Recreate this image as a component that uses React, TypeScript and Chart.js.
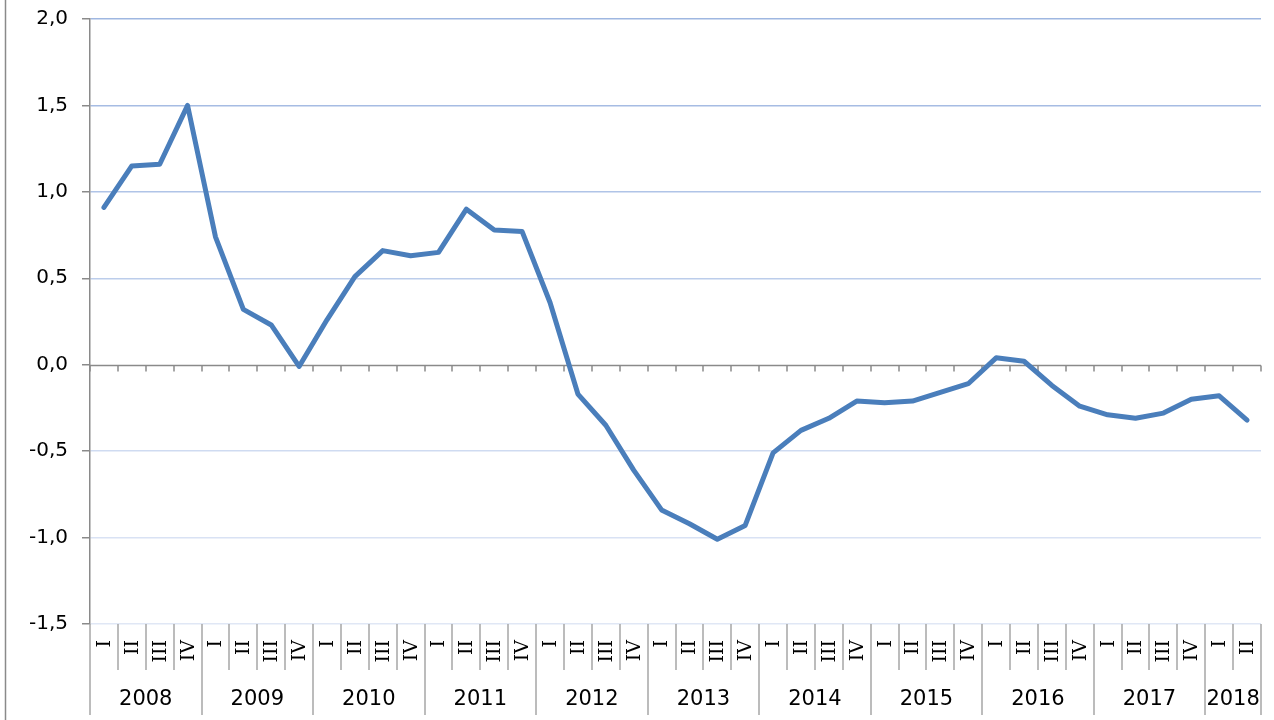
import React, { useEffect, useRef } from "react";
import { Chart, registerables } from "chart.js";

Chart.register(...registerables);

const years = ["2008", "2009", "2010", "2011", "2012", "2013", "2014", "2015", "2016", "2017", "2018"];
const quarterNames = ["I", "II", "III", "IV"];
const quarterCounts = [4, 4, 4, 4, 4, 4, 4, 4, 4, 4, 2];

const values = [
  0.91, 1.15, 1.16, 1.5,
  0.74, 0.32, 0.23, -0.01,
  0.26, 0.51, 0.66, 0.63,
  0.65, 0.9, 0.78, 0.77,
  0.36, -0.17, -0.35, -0.61,
  -0.84, -0.92, -1.01, -0.93,
  -0.51, -0.38, -0.31, -0.21,
  -0.22, -0.21, -0.16, -0.11,
  0.04, 0.02, -0.12, -0.24,
  -0.29, -0.31, -0.28, -0.2,
  -0.18, -0.32,
];

const yMin = -1.5;
const yMax = 2.0;
const yStep = 0.5;

const categoryLabels: string[] = [];
const categoryYears: string[] = [];
years.forEach((y, yi) => {
  for (let q = 0; q < quarterCounts[yi]; q++) {
    categoryLabels.push(quarterNames[q]);
    categoryYears.push(y);
  }
});

const AXIS_GRAY = "#8a8a8a";

const gridColors: Record<string, string> = {
  "2": "#9fb7e1",
  "1.5": "#a6bce3",
  "1": "#b0c4e7",
  "0.5": "#bccdeb",
  "-0.5": "#cfdbf1",
  "-1": "#d9e2f4",
  "-1.5": "#e0e7f5",
};

const axesPlugin = {
  id: "customAxes",
  beforeDatasetsDraw(chart: any) {
    const { ctx, chartArea, scales } = chart;
    const x = scales.x;
    const y = scales.y;
    const y0 = Math.round(y.getPixelForValue(0)) + 0.5;
    const n = categoryLabels.length;
    const half = (x.getPixelForValue(1) - x.getPixelForValue(0)) / 2;
    ctx.save();
    ctx.strokeStyle = AXIS_GRAY;
    ctx.lineWidth = 1.5;
    ctx.beginPath();
    ctx.moveTo(chartArea.left, y0);
    ctx.lineTo(chartArea.right, y0);
    ctx.stroke();
    for (let i = 0; i <= n; i++) {
      const bx = Math.round(i < n ? x.getPixelForValue(i) - half : x.getPixelForValue(n - 1) + half);
      ctx.beginPath();
      ctx.moveTo(bx, y0);
      ctx.lineTo(bx, y0 + 6);
      ctx.stroke();
    }
    ctx.restore();
  },
  afterDraw(chart: any) {
    const { ctx, chartArea, scales } = chart;
    const x = scales.x;
    const n = categoryLabels.length;
    const half = (x.getPixelForValue(1) - x.getPixelForValue(0)) / 2;
    const bottom = chartArea.bottom;
    ctx.save();
    ctx.strokeStyle = AXIS_GRAY;
    ctx.lineWidth = 1.5;
    ctx.beginPath();
    ctx.moveTo(5.5, 0);
    ctx.lineTo(5.5, 720);
    ctx.stroke();

    ctx.strokeStyle = "#a6a6a6";
    ctx.lineWidth = 1.5;
    for (let i = 0; i <= n; i++) {
      const bx = Math.round(i < n ? x.getPixelForValue(i) - half : x.getPixelForValue(n - 1) + half);
      const isYear = i === 0 || i === n || categoryYears[i] !== categoryYears[i - 1];
      ctx.beginPath();
      ctx.moveTo(bx, bottom);
      ctx.lineTo(bx, isYear ? bottom + 91 : bottom + 46);
      ctx.stroke();
    }

    ctx.fillStyle = "#000";
    ctx.font = "19px 'DejaVu Serif'";
    ctx.textAlign = "right";
    ctx.textBaseline = "middle";
    for (let i = 0; i < n; i++) {
      const cx = x.getPixelForValue(i);
      ctx.save();
      ctx.translate(cx + 1, bottom + 16);
      ctx.rotate(-Math.PI / 2);
      ctx.fillText(categoryLabels[i], 0, 0);
      ctx.restore();
    }

    ctx.font = "21px 'DejaVu Sans'";
    ctx.textAlign = "center";
    ctx.textBaseline = "middle";
    let start = 0;
    years.forEach((yr, yi) => {
      const cnt = quarterCounts[yi];
      const a = x.getPixelForValue(start) - half;
      const b = x.getPixelForValue(start + cnt - 1) + half;
      ctx.fillText(yr, (a + b) / 2, bottom + 76);
      start += cnt;
    });
    ctx.restore();
  },
};

export default function App() {
  const canvasRef = useRef<HTMLCanvasElement | null>(null);

  useEffect(() => {
    const canvas = canvasRef.current;
    if (!canvas) return;
    const chart = new Chart(canvas, {
      type: "line",
      data: {
        labels: categoryLabels,
        datasets: [
          {
            data: values,
            borderColor: "#4a7ebb",
            borderWidth: 5,
            pointRadius: 0,
            tension: 0,
            borderJoinStyle: "round",
            borderCapStyle: "round",
            fill: false,
          },
        ],
      },
      options: {
        animation: false,
        responsive: false,
        layout: { padding: { top: 19, right: 13, bottom: 96, left: 0 } },
        plugins: { legend: { display: false }, tooltip: { enabled: false } },
        scales: {
          x: {
            type: "category",
            display: false,
            offset: true,
          },
          y: {
            min: yMin,
            max: yMax,
            border: { display: true, color: AXIS_GRAY, width: 1.5 },
            grid: {
              color: (c: any) => {
                const v = c.tick ? c.tick.value : null;
                if (v === 0 || v === null) return "rgba(0,0,0,0)";
                return gridColors[String(Math.round(v * 10) / 10)] || "#b0c4e7";
              },
              lineWidth: 1.5,
              tickColor: AXIS_GRAY,
              tickLength: 8,
              drawTicks: true,
            },
            ticks: {
              stepSize: yStep,
              color: "#000",
              padding: 14,
              font: { family: "'DejaVu Sans'", size: 20 },
              callback: (v: any) => Number(v).toFixed(1).replace(".", ","),
            },
            afterFit: (scale: any) => {
              scale.width = 90;
              scale.paddingTop = 0;
              scale.paddingBottom = 0;
            },
          },
        },
      },
      plugins: [axesPlugin],
    });
    return () => chart.destroy();
  }, []);

  return (
    <div style={{ position: "fixed", left: 0, top: 0, width: 1274, height: 720, background: "#fff" }}>
      <canvas ref={canvasRef} width={1274} height={720} style={{ display: "block" }} />
    </div>
  );
}
